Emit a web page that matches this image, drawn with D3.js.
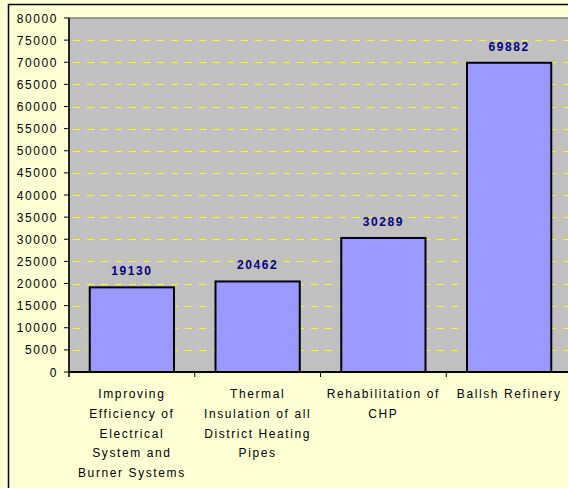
<!DOCTYPE html>
<html lang="en">
<head>
    <meta charset="UTF-8">
    <title>project costs</title>
    <script src="https://d3js.org/d3.v7.min.js"></script>
    <style>
        body {
            margin: 0;
            background: #ffffd4;
        }
        svg {
            display: block;
        }
        text {
            font-family: Arial, "Liberation Sans", sans-serif;
            font-size: 12px;
            letter-spacing: 1.6px;
            fill: #000;
        }
        .grid line {
            stroke: #ffff00;
            stroke-width: 1.2;
            stroke-dasharray: 7, 7;
        }
        .bar {
            fill: #9999ff;
            stroke: #000;
            stroke-width: 2;
        }
        .value {
            font-weight: bold;
            fill: #000080;
        }
    </style>
</head>
<body>
    <div id="chart"></div>
    <script>
        // data
        const categories = [
            ['Improving', 'Efficiency of', 'Electrical', 'System and', 'Burner Systems'],
            ['Thermal', 'Insulation of all', 'District Heating', 'Pipes'],
            ['Rehabilitation of', 'CHP'],
            ['Ballsh Refinery']
        ]
        const values = [19130, 20462, 30289, 69882]
        const yTicks = d3.range(0, 80001, 5000)

        const WIDTH = 568
        const HEIGHT = 488

        // plot area
        const PLOT_LEFT = 69
        const PLOT_TOP = 18
        const PLOT_BOTTOM = 372
        const PLOT_RIGHT = 572

        const svg = d3.select('#chart')
            .append('svg')
            .attr('width', WIDTH)
            .attr('height', HEIGHT)

        // chart frame
        svg.append('rect')
            .attr('x', 8.5).attr('y', 4.5)
            .attr('width', 600).attr('height', 600)
            .attr('fill', '#ffffd4')
            .attr('stroke', '#000')
            .attr('stroke-width', 1.5)

        const x = d3.scaleBand()
            .domain(d3.range(categories.length))
            .range([PLOT_LEFT, PLOT_RIGHT])
            .paddingInner(0.33)
            .paddingOuter(0.165)

        const y = d3.scaleLinear()
            .domain([0, 80000])
            .range([PLOT_BOTTOM, PLOT_TOP])

        svg.append('rect')
            .attr('x', PLOT_LEFT).attr('y', PLOT_TOP)
            .attr('width', PLOT_RIGHT - PLOT_LEFT).attr('height', PLOT_BOTTOM - PLOT_TOP)
            .attr('fill', '#c0c0c0')
            .attr('stroke', '#808080')
            .attr('stroke-width', 1.5)

        // gridlines
        svg.append('g').attr('class', 'grid')
            .selectAll('line')
            .data(yTicks.filter(d => d > 0 && d < 80000)).enter()
            .append('line')
            .attr('x1', PLOT_LEFT + 4).attr('x2', PLOT_RIGHT)
            .attr('y1', d => Math.round(y(d)) + 0.5)
            .attr('y2', d => Math.round(y(d)) + 0.5)

        // bars
        svg.append('g')
            .selectAll('.bar')
            .data(values).enter()
            .append('rect').attr('class', 'bar')
            .attr('x', (d, i) => x(i))
            .attr('y', d => y(d))
            .attr('width', x.bandwidth())
            .attr('height', d => y(0) - y(d))

        svg.append('g')
            .selectAll('.value')
            .data(values).enter()
            .append('text').attr('class', 'value')
            .attr('x', (d, i) => x(i) + x.bandwidth() / 2)
            .attr('y', d => y(d) - 12)
            .attr('text-anchor', 'middle')
            .text(d => d)

        // y axis
        const yAxis = svg.append('g')
        yAxis.append('line')
            .attr('x1', PLOT_LEFT).attr('x2', PLOT_LEFT)
            .attr('y1', PLOT_TOP).attr('y2', PLOT_BOTTOM + 5)
            .attr('stroke', '#000').attr('stroke-width', 1.5)
        yAxis.selectAll('.tick')
            .data(yTicks).enter()
            .append('line')
            .attr('x1', PLOT_LEFT - 5).attr('x2', PLOT_LEFT)
            .attr('y1', d => y(d)).attr('y2', d => y(d))
            .attr('stroke', '#000')
        yAxis.selectAll('text')
            .data(yTicks).enter()
            .append('text')
            .attr('x', PLOT_LEFT - 11)
            .attr('y', d => y(d) + 4.5)
            .attr('text-anchor', 'end')
            .text(d => d)

        // x axis
        const xAxis = svg.append('g')
        xAxis.append('line')
            .attr('x1', PLOT_LEFT).attr('x2', PLOT_RIGHT)
            .attr('y1', PLOT_BOTTOM).attr('y2', PLOT_BOTTOM)
            .attr('stroke', '#000').attr('stroke-width', 2)
        xAxis.selectAll('.tick')
            .data(d3.range(1, categories.length)).enter()
            .append('line')
            .attr('x1', i => PLOT_LEFT + i * x.step())
            .attr('x2', i => PLOT_LEFT + i * x.step())
            .attr('y1', PLOT_BOTTOM).attr('y2', PLOT_BOTTOM + 5)
            .attr('stroke', '#000')

        xAxis.selectAll('.cat')
            .data(categories).enter()
            .append('text')
            .attr('text-anchor', 'middle')
            .attr('transform', (d, i) => `translate(${x(i) + x.bandwidth() / 2},${PLOT_BOTTOM + 26})`)
            .selectAll('tspan')
            .data(d => d).enter()
            .append('tspan')
            .attr('x', 0)
            .attr('dy', (d, i) => i === 0 ? 0 : 19.8)
            .text(d => d)
    </script>
</body>
</html>
